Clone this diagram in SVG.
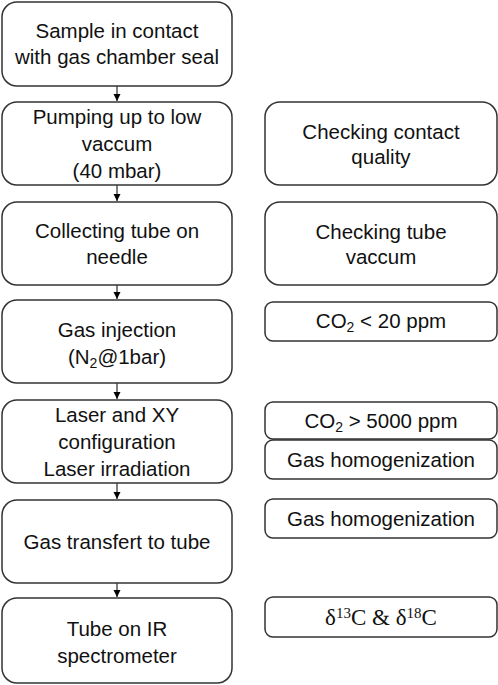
<svg xmlns="http://www.w3.org/2000/svg" width="498" height="685" viewBox="0 0 498 685">
<style>
.box{fill:#fff;stroke:#333;stroke-width:1.5}
text{font-family:"Liberation Sans",Arial,sans-serif;font-size:20.5px;fill:#111;text-anchor:middle}
.m{font-family:"Liberation Serif","DejaVu Serif",serif;font-size:23px}
.conn line{stroke:#000;stroke-width:1}
</style>
<defs>
<marker id="ah" markerWidth="8" markerHeight="8" refX="7" refY="4" orient="auto" markerUnits="userSpaceOnUse">
<path d="M0,0.5 L7,4 L0,7.5 Z" fill="#000"/>
</marker>
</defs>
<rect width="498" height="685" fill="#fff"/>
<g class="conn">
<line x1="117" y1="86" x2="117" y2="101" marker-end="url(#ah)"/>
<line x1="117" y1="185" x2="117" y2="201" marker-end="url(#ah)"/>
<line x1="117" y1="285" x2="117" y2="299" marker-end="url(#ah)"/>
<line x1="117" y1="383" x2="117" y2="399" marker-end="url(#ah)"/>
<line x1="117" y1="483" x2="117" y2="499" marker-end="url(#ah)"/>
<line x1="117" y1="583" x2="117" y2="597" marker-end="url(#ah)"/>
</g>
<g id="n1"><rect class="box" x="2" y="2" width="230" height="84" rx="15"/>
<text x="117" y="38">Sample in contact</text><text x="117" y="64">with gas chamber seal</text></g>
<g id="n2"><rect class="box" x="2" y="102" width="230" height="83" rx="15"/>
<text x="117" y="124">Pumping up to low</text><text x="117" y="151">vaccum</text><text x="117" y="178">(40 mbar)</text></g>
<g id="n3"><rect class="box" x="2" y="202" width="230" height="83" rx="15"/>
<text x="117" y="238">Collecting tube on</text><text x="117" y="264">needle</text></g>
<g id="n4"><rect class="box" x="2" y="300" width="230" height="83" rx="15"/>
<text x="117" y="337">Gas injection</text><text x="117" y="364">(N<tspan font-size="14" dy="4">2</tspan><tspan dy="-4">@1bar)</tspan></text></g>
<g id="n5"><rect class="box" x="2" y="400" width="230" height="83" rx="15"/>
<text x="117" y="422">Laser and XY</text><text x="117" y="449">configuration</text><text x="117" y="476">Laser irradiation</text></g>
<g id="n6"><rect class="box" x="2" y="500" width="230" height="83" rx="15"/>
<text x="117" y="549">Gas transfert to tube</text></g>
<g id="n7"><rect class="box" x="2" y="598" width="230" height="85" rx="15"/>
<text x="117" y="636">Tube on IR</text><text x="117" y="663">spectrometer</text></g>
<g id="r1"><rect class="box" x="265" y="102" width="232" height="83" rx="15"/>
<text x="381" y="139">Checking contact</text><text x="381" y="164">quality</text></g>
<g id="r2"><rect class="box" x="265" y="202" width="232" height="83" rx="15"/>
<text x="381" y="239">Checking tube</text><text x="381" y="264">vaccum</text></g>
<g id="r3"><rect class="box" x="265" y="302" width="232" height="39" rx="8"/>
<text x="381" y="328">CO<tspan font-size="14" dy="4">2</tspan><tspan dy="-4"> &lt; 20 ppm</tspan></text></g>
<g id="r4"><rect class="box" x="265" y="402" width="232" height="37" rx="8"/>
<text x="381" y="428">CO<tspan font-size="14" dy="4">2</tspan><tspan dy="-4"> &gt; 5000 ppm</tspan></text></g>
<g id="r5"><rect class="box" x="265" y="440" width="232" height="39" rx="8"/>
<text x="381" y="467">Gas homogenization</text></g>
<g id="r6"><rect class="box" x="265" y="499" width="232" height="39" rx="8"/>
<text x="381" y="526">Gas homogenization</text></g>
<g id="r7"><rect class="box" x="265" y="597" width="232" height="40" rx="8"/>
<text class="m" x="381" y="625">δ<tspan font-size="15" dy="-7">13</tspan><tspan dy="7">C &amp; δ</tspan><tspan font-size="15" dy="-7">18</tspan><tspan dy="7">C</tspan></text></g>
</svg>
